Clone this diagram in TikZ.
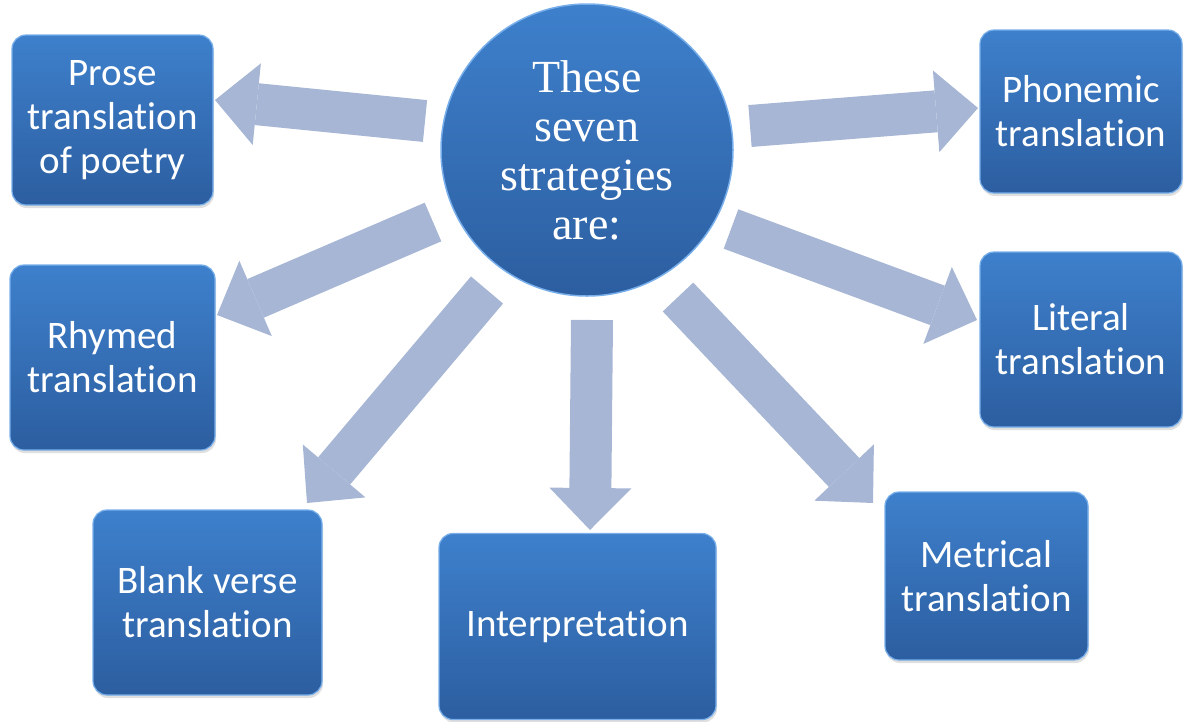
\documentclass[tikz,border=0pt]{standalone}
\usepackage{fontspec}
\setmainfont{Carlito}[Ligatures=CommonOff]
\newfontfamily\hubfont{Liberation Serif}
\usepackage{tikz}
\usetikzlibrary{arrows.meta, shadows}
\definecolor{boxtop}{RGB}{62,128,204}
\definecolor{boxbot}{RGB}{44,94,160}
\definecolor{boxrim}{RGB}{120,175,235}
\definecolor{flowblue}{RGB}{166,182,212}

\begin{document}
\begin{tikzpicture}[x=1pt, y=-1pt,
  hub/.style={circle, minimum size=292pt, inner sep=0pt, draw=boxrim, line width=1.5pt,
              top color=boxtop, bottom color=boxbot, text=white, align=center,
              font=\hubfont\fontsize{46}{49}\selectfont},
  box/.style={rectangle, rounded corners=14pt, draw=boxrim, line width=1.2pt,
              top color=boxtop, bottom color=boxbot, text=white, align=center,
              font=\fontsize{39}{44}\selectfont, inner sep=2pt,
              drop shadow={opacity=0.25, shadow xshift=1pt, shadow yshift=-3pt}},
  flow/.style={draw=flowblue, line width=42pt,
               -{Triangle[length=42pt, width=82pt, line width=0pt]}}]
  \useasboundingbox (0,0) rectangle (1184,721);

  % arrow ends: tail near the hub, tip at the box
  \coordinate (s1) at (425,121); \coordinate (e1) at (215,100);
  \coordinate (s2) at (750,126); \coordinate (e2) at (978,108);
  \coordinate (s3) at (433,222); \coordinate (e3) at (217,315);
  \coordinate (s4) at (731,229); \coordinate (e4) at (977,320);
  \coordinate (s5) at (487,290); \coordinate (e5) at (307,503);
  \coordinate (s6) at (592,320); \coordinate (e6) at (590,530);
  \coordinate (s7) at (678,297); \coordinate (e7) at (873,503);

  \foreach \i in {1,...,7}
    \draw[flow] (s\i) -- (e\i);

  \node[hub] (hub) at (587,150) {These\\seven\\strategies\\are:};

  \node[box, minimum width=201pt, minimum height=170pt] (prose) at (112.5,120) {Prose\\translation\\of poetry};
  \node[box, minimum width=202pt, minimum height=163pt] (phonemic) at (1081,111.5) {Phonemic\\translation};
  \node[box, minimum width=205pt, minimum height=185pt] (rhymed) at (112.5,357.5) {Rhymed\\translation};
  \node[box, minimum width=202pt, minimum height=175pt] (literal) at (1081,339.5) {Literal\\translation};
  \node[box, minimum width=229pt, minimum height=185pt] (blank) at (207.5,602.5) {Blank verse\\translation};
  \node[box, minimum width=277pt, minimum height=186pt] (interp) at (577.5,626.5) {Interpretation};
  \node[box, minimum width=203pt, minimum height=168pt] (metrical) at (986.5,576) {Metrical\\translation};
\end{tikzpicture}
\end{document}
